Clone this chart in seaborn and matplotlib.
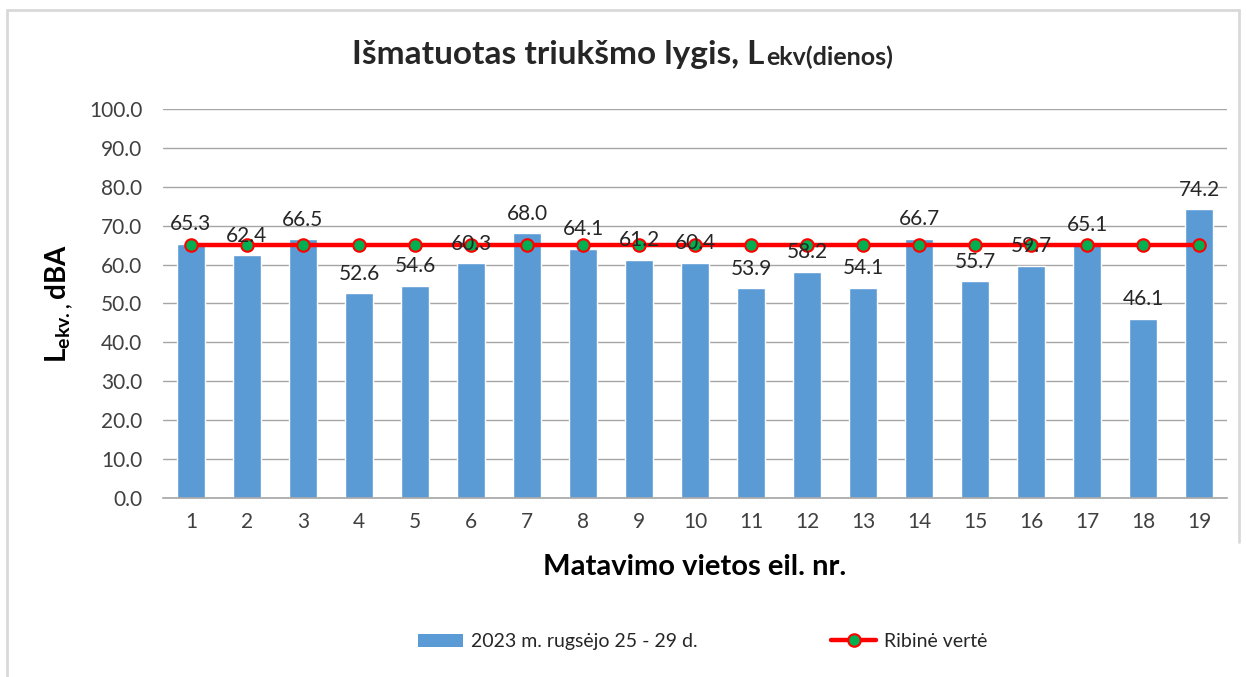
import numpy as np
import matplotlib.pyplot as plt
from matplotlib.lines import Line2D
from matplotlib.patches import Patch
import seaborn as sns

# Measured noise levels per site, and the limit value
sites = [str(i) for i in range(1, 20)]
measured = [65.3, 62.4, 66.5, 52.6, 54.6, 60.3, 68.0, 64.1, 61.2, 60.4,
            53.9, 58.2, 54.1, 66.7, 55.7, 59.7, 65.1, 46.1, 74.2]
limit = [65.0] * 19
yticks = [0, 10, 20, 30, 40, 50, 60, 70, 80, 90, 100]

bar_label = "2023 m. rugsėjo 25 - 29 d."
line_label = "Ribinė vertė"

sns.set_theme(style="white")
plt.rcParams['font.family'] = ['Lato', 'DejaVu Sans']
plt.rcParams['mathtext.fontset'] = 'custom'
plt.rcParams['mathtext.rm'] = 'Lato'
plt.rcParams['mathtext.bf'] = 'Lato:bold'

fig = plt.figure(figsize=(12.46, 6.77), dpi=100)
ax = fig.add_axes([0.1308, 0.2644, 0.854, 0.5746])

sns.barplot(x=sites, y=measured, color="#5B9BD5", saturation=1, width=0.5,
            ax=ax, zorder=2)
pos = np.arange(len(sites))
ax.plot(pos, limit, color="#FF0000", lw=3.2, marker="o", markersize=9,
        markerfacecolor="#00B050", markeredgecolor="#FF0000",
        markeredgewidth=1.5, zorder=3)

for x, v in zip(pos, measured):
    ax.annotate(f"{v:.1f}", (x, v), xytext=(0, 7), textcoords="offset points",
                ha="center", va="bottom", fontsize=15, color="#262626", zorder=4)

ax.set_ylim(0, 100)
ax.set_xlim(-0.5, len(sites) - 0.5)
ax.set_yticks(yticks)
ax.set_yticklabels([f"{t:.1f}" for t in yticks], fontsize=15, color="#404040")
ax.tick_params(axis="x", labelsize=15, colors="#404040", length=0, pad=10)
ax.tick_params(axis="y", length=0, pad=15)
ax.yaxis.grid(True, color="#A6A6A6", lw=1)
ax.set_axisbelow(True)
for s in ["top", "right", "left"]:
    ax.spines[s].set_visible(False)
ax.spines["bottom"].set_color("#A6A6A6")
ax.spines["bottom"].set_linewidth(1.2)

ax.set_xlabel("Matavimo vietos eil. nr.", fontsize=21, fontweight="bold",
              color="black", labelpad=16)
ax.set_ylabel(r"$\mathbf{L_{ekv.{,}}}\,\mathbf{dBA}$", fontsize=20,
              fontweight="bold", color="black", labelpad=10)

# Title: large main part followed by smaller "ekv(dienos)"
t1 = fig.text(0.2825, 0.905, "Išmatuotas triukšmo lygis, L", fontsize=24,
              fontweight="bold", ha="left", va="baseline")
ax.annotate("ekv(dienos)", xy=(1, 0), xycoords=t1, xytext=(1, 0),
            textcoords="offset points", fontsize=18, fontweight="bold",
            ha="left", va="bottom")

handles = [Patch(facecolor="#5B9BD5", edgecolor="none"),
           Line2D([0], [0], color="#FF0000", lw=3.2, marker="o", markersize=9,
                  markerfacecolor="#00B050", markeredgecolor="#FF0000",
                  markeredgewidth=1.5)]
fig.legend(handles, [bar_label, line_label], loc="center",
           bbox_to_anchor=(0.564, 0.052), ncol=2, frameon=False, fontsize=14,
           columnspacing=6.9, handlelength=2.3, handletextpad=0.4)

# light grey chart frame
fig.add_artist(Line2D([0.006, 0.006], [0.0, 0.985], transform=fig.transFigure,
                      color="#D9D9D9", lw=2))
fig.add_artist(Line2D([0.006, 0.994], [0.985, 0.985], transform=fig.transFigure,
                      color="#D9D9D9", lw=2))
fig.add_artist(Line2D([0.994, 0.994], [0.2, 0.985], transform=fig.transFigure,
                      color="#D9D9D9", lw=2))

fig.savefig("out.png", dpi=100)
